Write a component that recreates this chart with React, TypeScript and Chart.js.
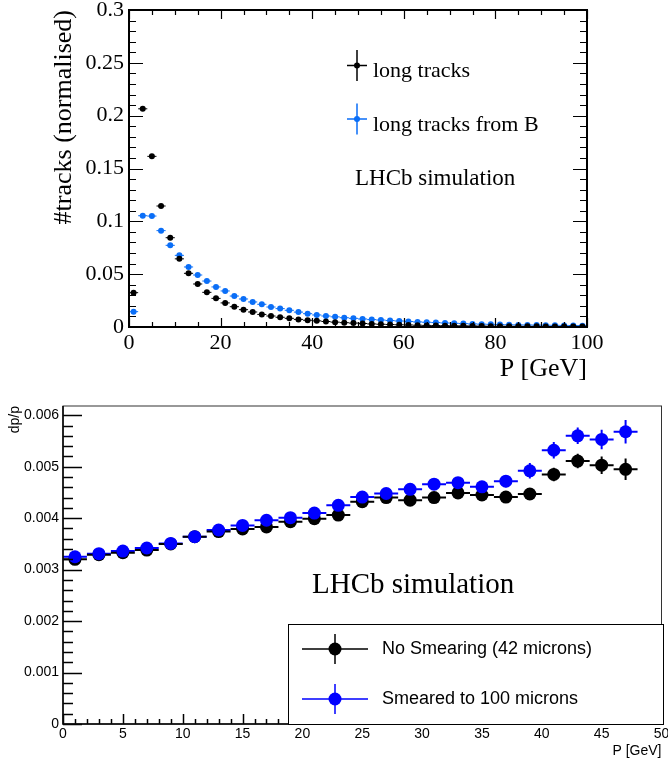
import React, { useEffect, useRef } from "react";
import { Chart, registerables } from "chart.js";

Chart.register(...registerables);

// ---------- Top chart data ----------
const topBins = [
  1, 3, 5, 7, 9, 11, 13, 15, 17, 19, 21, 23, 25, 27, 29, 31, 33, 35, 37, 39,
  41, 43, 45, 47, 49, 51, 53, 55, 57, 59, 61, 63, 65, 67, 69, 71, 73, 75, 77, 79,
  81, 83, 85, 87, 89, 91, 93, 95, 97, 99,
];
const longTracks = [
  0.0325, 0.2065, 0.1615, 0.1145, 0.0845, 0.0645, 0.0508, 0.0407, 0.0328, 0.0271,
  0.0228, 0.0192, 0.0164, 0.0142, 0.0119, 0.0104, 0.0092, 0.0082, 0.0072, 0.0064,
  0.0058, 0.0052, 0.0046, 0.0041, 0.0037, 0.0033, 0.0029, 0.0026, 0.0023, 0.0021,
  0.0019, 0.0017, 0.0015, 0.0014, 0.0013, 0.0012, 0.0011, 0.001, 0.0009, 0.0008,
  0.0008, 0.0007, 0.0007, 0.0006, 0.0006, 0.0005, 0.0005, 0.0005, 0.0004, 0.0004,
];
const longTracksFromB = [
  0.0145, 0.1053, 0.105, 0.0912, 0.0773, 0.0678, 0.0568, 0.0492, 0.0435, 0.0379,
  0.0341, 0.0293, 0.0265, 0.0237, 0.0215, 0.0189, 0.0174, 0.0158, 0.0141, 0.0126,
  0.0114, 0.0104, 0.0096, 0.0088, 0.0082, 0.0076, 0.007, 0.0066, 0.0061, 0.0057,
  0.0052, 0.0048, 0.0045, 0.0042, 0.0038, 0.0035, 0.0032, 0.0029, 0.0027, 0.0025,
  0.0023, 0.0021, 0.002, 0.0019, 0.0018, 0.0017, 0.0016, 0.0015, 0.0014, 0.0013,
];
const topBinHalfWidth = 1;
const topXTicks = [0, 20, 40, 60, 80, 100];
const topXTickLabels = ["0", "20", "40", "60", "80", "100"];
const topYTicks = [0, 0.05, 0.1, 0.15, 0.2, 0.25, 0.3];
const topYTickLabels = ["0", "0.05", "0.1", "0.15", "0.2", "0.25", "0.3"];
const topSeriesNames = ["long tracks", "long tracks from B"];

// ---------- Bottom chart data ----------
const bottomBins = [
  1, 3, 5, 7, 9, 11, 13, 15, 17, 19, 21, 23, 25, 27, 29, 31, 33, 35, 37, 39, 41, 43, 45, 47,
];
const noSmearing = [
  0.0032, 0.00329, 0.00333, 0.00338, 0.0035, 0.00364, 0.00374, 0.00379, 0.00383, 0.00393,
  0.00399, 0.00406, 0.00432, 0.0044, 0.00435, 0.0044, 0.00449, 0.00445, 0.00441, 0.00447,
  0.00485, 0.00511, 0.00503, 0.00495,
];
const noSmearingErr = [
  0.00003, 0.00003, 0.00003, 0.00004, 0.00004, 0.00004, 0.00005, 0.00005, 0.00006, 0.00006,
  0.00007, 0.00007, 0.00008, 0.00008, 0.00009, 0.00009, 0.0001, 0.0001, 0.00011, 0.00011,
  0.00013, 0.00014, 0.00017, 0.00021,
];
const smeared = [
  0.00325, 0.00331, 0.00336, 0.00342, 0.00351, 0.00364, 0.00377, 0.00386, 0.00396, 0.00401,
  0.0041, 0.00425, 0.00441, 0.00448, 0.00456, 0.00466, 0.00469, 0.00461, 0.00472, 0.00492,
  0.00532, 0.0056, 0.00553, 0.00568,
];
const smearedErr = [
  0.00003, 0.00003, 0.00004, 0.00004, 0.00004, 0.00005, 0.00005, 0.00006, 0.00006, 0.00007,
  0.00007, 0.00008, 0.00008, 0.00009, 0.0001, 0.0001, 0.00011, 0.00011, 0.00012, 0.00015,
  0.00016, 0.00016, 0.00019, 0.00023,
];
const bottomBinHalfWidth = 1;
const bottomXTicks = [0, 5, 10, 15, 20, 25, 30, 35, 40, 45, 50];
const bottomXTickLabels = ["0", "5", "10", "15", "20", "25", "30", "35", "40", "45", "50"];
const bottomYTicks = [0, 0.001, 0.002, 0.003, 0.004, 0.005, 0.006];
const bottomYTickLabels = ["0", "0.001", "0.002", "0.003", "0.004", "0.005", "0.006"];
const bottomSeriesNames = ["No Smearing (42 microns)", "Smeared to 100 microns"];

const SERIF = "'Liberation Serif', 'Times New Roman', serif";
const SANS = "'Liberation Sans', Arial, sans-serif";
const TOP_BLUE = "#0a6ef7";
const BOT_BLUE = "#0000ff";

// ---------- Plugins ----------
const errorBarPlugin = {
  id: "errorBars",
  beforeDatasetsDraw(chart: any) {
    const ctx = chart.ctx;
    const xs = chart.scales.x;
    const ys = chart.scales.y;
    const a = chart.chartArea;
    ctx.save();
    ctx.beginPath();
    ctx.rect(a.left, a.top, a.right - a.left, a.bottom - a.top);
    ctx.clip();
    chart.data.datasets.forEach((ds: any) => {
      ctx.strokeStyle = ds.errColor;
      ctx.lineWidth = ds.errWidth;
      ds.data.forEach((p: any, j: number) => {
        const ex = ds.errX ? ds.errX[j] : 0;
        const ey = ds.errY ? ds.errY[j] : 0;
        const cx = xs.getPixelForValue(p.x);
        const cy = ys.getPixelForValue(p.y);
        ctx.beginPath();
        if (ex) {
          ctx.moveTo(xs.getPixelForValue(p.x - ex), cy);
          ctx.lineTo(xs.getPixelForValue(p.x + ex), cy);
        }
        if (ey) {
          ctx.moveTo(cx, ys.getPixelForValue(p.y - ey));
          ctx.lineTo(cx, ys.getPixelForValue(p.y + ey));
        }
        ctx.stroke();
      });
    });
    ctx.restore();
  },
};

const framePlugin = {
  id: "rootFrame",
  afterDatasetsDraw(chart: any, _args: any, o: any) {
    const ctx = chart.ctx;
    const a = chart.chartArea;
    const xs = chart.scales.x;
    const ys = chart.scales.y;
    ctx.save();
    // ticks
    ctx.strokeStyle = o.tickColor;
    ctx.lineWidth = o.tickWidth;
    const xVals: [number, number][] = [];
    for (let v = xs.min; v <= xs.max + 1e-9; v += o.xMinorStep) {
      const isMajor = Math.abs(v / o.xMajorStep - Math.round(v / o.xMajorStep)) < 1e-6;
      xVals.push([v, isMajor ? o.xMajorLen : o.xMinorLen]);
    }
    const yVals: [number, number][] = [];
    for (let k = 0; ; k++) {
      const v = ys.min + k * o.yMinorStep;
      if (v > ys.max + 1e-12) break;
      const isMajor = Math.abs(v / o.yMajorStep - Math.round(v / o.yMajorStep)) < 1e-6;
      yVals.push([v, isMajor ? o.yMajorLen : o.yMinorLen]);
    }
    ctx.beginPath();
    xVals.forEach(([v, len]) => {
      const px = Math.round(xs.getPixelForValue(v)) + 0.5;
      ctx.moveTo(px, a.bottom);
      ctx.lineTo(px, a.bottom - len);
      if (o.mirror) {
        ctx.moveTo(px, a.top);
        ctx.lineTo(px, a.top + len);
      }
    });
    yVals.forEach(([v, len]) => {
      const py = Math.round(ys.getPixelForValue(v)) + 0.5;
      ctx.moveTo(a.left, py);
      ctx.lineTo(a.left + len, py);
      if (o.mirror) {
        ctx.moveTo(a.right, py);
        ctx.lineTo(a.right - len, py);
      }
    });
    ctx.stroke();
    // frame
    ctx.strokeStyle = o.frameColor;
    ctx.lineWidth = o.frameWidth;
    ctx.strokeRect(a.left, a.top, a.right - a.left, a.bottom - a.top);
    if (o.axisWidth) {
      ctx.strokeStyle = o.tickColor;
      ctx.lineWidth = o.axisWidth;
      ctx.beginPath();
      ctx.moveTo(a.left, a.top);
      ctx.lineTo(a.left, a.bottom);
      ctx.lineTo(a.right, a.bottom);
      ctx.stroke();
    }
    ctx.restore();
  },
};

const annotationPlugin = {
  id: "rootAnnotations",
  afterDraw(chart: any, _args: any, o: any) {
    const ctx = chart.ctx;
    ctx.save();
    if (o.box) {
      ctx.fillStyle = "#fff";
      ctx.fillRect(o.box.x, o.box.y, o.box.w, o.box.h);
      ctx.strokeStyle = "#000";
      ctx.lineWidth = 1;
      ctx.strokeRect(o.box.x + 0.5, o.box.y + 0.5, o.box.w, o.box.h);
    }
    (o.markers || []).forEach((m: any) => {
      ctx.strokeStyle = m.color;
      ctx.lineWidth = m.lw;
      ctx.beginPath();
      ctx.moveTo(m.x - m.hw, m.y);
      ctx.lineTo(m.x + m.hw, m.y);
      ctx.moveTo(m.x, m.y - m.vh);
      ctx.lineTo(m.x, m.y + m.vh);
      ctx.stroke();
      ctx.fillStyle = m.color;
      ctx.beginPath();
      ctx.arc(m.x, m.y, m.r, 0, Math.PI * 2);
      ctx.fill();
    });
    (o.texts || []).forEach((t: any) => {
      ctx.fillStyle = "#000";
      ctx.font = t.font;
      ctx.textAlign = "left";
      ctx.textBaseline = t.baseline || "alphabetic";
      ctx.fillText(t.text, t.x, t.y);
    });
    ctx.restore();
  },
};

function labelFor(values: number[], labels: string[]) {
  return (v: any) => {
    const i = values.findIndex((t) => Math.abs(t - v) < 1e-9);
    return i >= 0 ? labels[i] : "";
  };
}

function topConfig(): any {
  return {
    type: "scatter",
    data: {
      datasets: [
        {
          label: topSeriesNames[0],
          data: topBins.map((x, i) => ({ x, y: longTracks[i] })),
          errX: topBins.map(() => topBinHalfWidth),
          errColor: "#000",
          errWidth: 1,
          pointRadius: 3,
          pointBackgroundColor: "#000",
          pointBorderWidth: 0,
        },
        {
          label: topSeriesNames[1],
          data: topBins.map((x, i) => ({ x, y: longTracksFromB[i] })),
          errX: topBins.map(() => topBinHalfWidth),
          errColor: TOP_BLUE,
          errWidth: 1,
          pointRadius: 3,
          pointBackgroundColor: TOP_BLUE,
          pointBorderWidth: 0,
        },
      ],
    },
    options: {
      responsive: false,
      animation: false,
      devicePixelRatio: 1,
      events: [],
      layout: { padding: { left: 0, top: 10, right: 81, bottom: 0 } },
      plugins: {
        legend: { display: false },
        tooltip: { enabled: false },
        rootFrame: {
          mirror: true,
          xMinorStep: 5,
          xMajorStep: 20,
          yMinorStep: 0.01,
          yMajorStep: 0.05,
          xMajorLen: 9,
          xMinorLen: 5,
          yMajorLen: 14,
          yMinorLen: 7,
          tickColor: "#000",
          tickWidth: 1.2,
          frameColor: "#000",
          frameWidth: 2,
        },
        rootAnnotations: {
          markers: [
            { x: 357, y: 65.5, hw: 10, vh: 15.5, r: 3, lw: 1.5, color: "#000" },
            { x: 357, y: 119, hw: 10, vh: 15.5, r: 3, lw: 1.5, color: TOP_BLUE },
          ],
          texts: [
            { text: topSeriesNames[0], x: 373, y: 77, font: `22px ${SERIF}` },
            { text: topSeriesNames[1], x: 373, y: 131, font: `22px ${SERIF}` },
            { text: "LHCb simulation", x: 355, y: 185, font: `23px ${SERIF}` },
          ],
        },
      },
      scales: {
        x: {
          type: "linear",
          min: 0,
          max: 100,
          afterBuildTicks: (s: any) => {
            s.ticks = topXTicks.map((v) => ({ value: v }));
          },
          afterFit: (s: any) => {
            s.height = 58;
            s.paddingLeft = 0;
            s.paddingRight = 0;
          },
          grid: { display: false, drawTicks: false },
          border: { display: false },
          ticks: {
            font: { family: SERIF, size: 22 },
            color: "#000",
            padding: 3,
            maxRotation: 0,
            autoSkip: false,
            callback: labelFor(topXTicks, topXTickLabels),
          },
          title: {
            display: true,
            text: "P [GeV]",
            align: "end",
            color: "#000",
            font: { family: SERIF, size: 26 },
            padding: { top: 0, bottom: 0 },
          },
        },
        y: {
          type: "linear",
          min: 0,
          max: 0.3,
          afterBuildTicks: (s: any) => {
            s.ticks = topYTicks.map((v) => ({ value: v }));
          },
          afterFit: (s: any) => {
            s.width = 129;
            s.paddingTop = 0;
            s.paddingBottom = 0;
          },
          grid: { display: false, drawTicks: false },
          border: { display: false },
          ticks: {
            font: { family: SERIF, size: 22 },
            color: "#000",
            padding: 5,
            autoSkip: false,
            callback: labelFor(topYTicks, topYTickLabels),
          },
          title: {
            display: true,
            text: "#tracks (normalised)",
            align: "end",
            color: "#000",
            font: { family: SERIF, size: 26 },
            padding: { top: 49, bottom: 0 },
          },
        },
      },
    },
    plugins: [errorBarPlugin, framePlugin, annotationPlugin],
  };
}

function bottomConfig(): any {
  return {
    type: "scatter",
    data: {
      datasets: [
        {
          label: bottomSeriesNames[1],
          data: bottomBins.map((x, i) => ({ x, y: smeared[i] })),
          errX: bottomBins.map(() => bottomBinHalfWidth),
          errY: smearedErr,
          errColor: BOT_BLUE,
          errWidth: 2,
          pointRadius: 6.5,
          pointBackgroundColor: BOT_BLUE,
          pointBorderWidth: 0,
        },
        {
          label: bottomSeriesNames[0],
          data: bottomBins.map((x, i) => ({ x, y: noSmearing[i] })),
          errX: bottomBins.map(() => bottomBinHalfWidth),
          errY: noSmearingErr,
          errColor: "#000",
          errWidth: 2,
          pointRadius: 6.5,
          pointBackgroundColor: "#000",
          pointBorderWidth: 0,
        },
      ],
    },
    options: {
      responsive: false,
      animation: false,
      devicePixelRatio: 1,
      events: [],
      layout: { padding: { left: 0, top: 21, right: 5, bottom: 0 } },
      plugins: {
        legend: { display: false },
        tooltip: { enabled: false },
        rootFrame: {
          mirror: false,
          xMinorStep: 1,
          xMajorStep: 5,
          yMinorStep: 0.0002,
          yMajorStep: 0.001,
          xMajorLen: 10,
          xMinorLen: 5,
          yMajorLen: 19,
          yMinorLen: 10,
          tickColor: "#000",
          tickWidth: 1.5,
          frameColor: "#333",
          frameWidth: 1,
          axisWidth: 1.5,
        },
        rootAnnotations: {
          box: { x: 288, y: 239, w: 375, h: 100 },
          markers: [
            { x: 335, y: 264, hw: 33, vh: 15, r: 6.5, lw: 1.5, color: "#000" },
            { x: 335, y: 314, hw: 33, vh: 15, r: 6.5, lw: 1.5, color: BOT_BLUE },
          ],
          texts: [
            { text: bottomSeriesNames[0], x: 382, y: 264, font: `18px ${SANS}`, baseline: "middle" },
            { text: bottomSeriesNames[1], x: 382, y: 314, font: `18px ${SANS}`, baseline: "middle" },
            { text: "LHCb simulation", x: 312, y: 208, font: `29px ${SERIF}` },
          ],
        },
      },
      scales: {
        x: {
          type: "linear",
          min: 0,
          max: 50,
          afterBuildTicks: (s: any) => {
            s.ticks = bottomXTicks.map((v) => ({ value: v }));
          },
          afterFit: (s: any) => {
            s.height = 38;
            s.paddingLeft = 0;
            s.paddingRight = 0;
          },
          grid: { display: false, drawTicks: false },
          border: { display: false },
          ticks: {
            font: { family: SANS, size: 14 },
            color: "#000",
            padding: 2,
            maxRotation: 0,
            autoSkip: false,
            callback: labelFor(bottomXTicks, bottomXTickLabels),
          },
          title: {
            display: true,
            text: "P [GeV]",
            align: "end",
            color: "#000",
            font: { family: SANS, size: 14 },
            padding: { top: 0, bottom: 2 },
          },
        },
        y: {
          type: "linear",
          min: 0,
          max: 0.00618,
          afterBuildTicks: (s: any) => {
            s.ticks = bottomYTicks.map((v) => ({ value: v }));
          },
          afterFit: (s: any) => {
            s.width = 63;
            s.paddingTop = 0;
            s.paddingBottom = 0;
          },
          grid: { display: false, drawTicks: false },
          border: { display: false },
          ticks: {
            font: { family: SANS, size: 14 },
            color: "#000",
            padding: 4,
            autoSkip: false,
            callback: labelFor(bottomYTicks, bottomYTickLabels),
          },
          title: {
            display: true,
            text: "dp/p",
            align: "end",
            color: "#000",
            font: { family: SANS, size: 14 },
            padding: { top: 7, bottom: 0 },
          },
        },
      },
    },
    plugins: [errorBarPlugin, framePlugin, annotationPlugin],
  };
}

export default function App() {
  const topRef = useRef<HTMLCanvasElement>(null);
  const botRef = useRef<HTMLCanvasElement>(null);
  useEffect(() => {
    const c1 = new Chart(topRef.current as HTMLCanvasElement, topConfig());
    const c2 = new Chart(botRef.current as HTMLCanvasElement, bottomConfig());
    return () => {
      c1.destroy();
      c2.destroy();
    };
  }, []);
  return (
    <div style={{ position: "absolute", left: 0, top: 0, width: 668, height: 762, background: "#fff" }}>
      <canvas
        ref={topRef}
        width={668}
        height={385}
        style={{ position: "absolute", left: 0, top: 0, width: 668, height: 385 }}
      />
      <canvas
        ref={botRef}
        width={668}
        height={377}
        style={{ position: "absolute", left: 0, top: 385, width: 668, height: 377 }}
      />
    </div>
  );
}
